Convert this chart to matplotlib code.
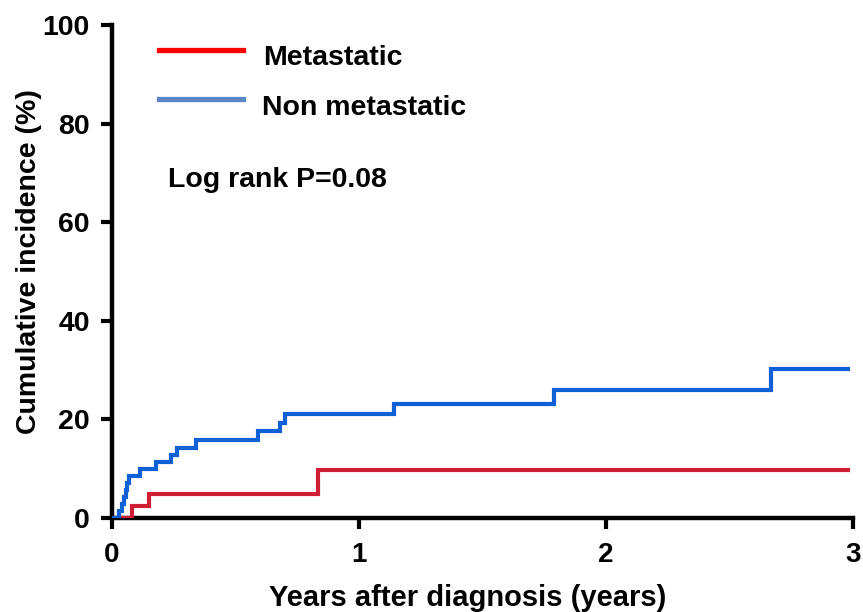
import matplotlib
matplotlib.use("Agg")
import matplotlib.pyplot as plt

# Data (years, cumulative incidence %)
met_times = [0.0, 0.08, 0.15, 0.835, 2.98]
met_values = [0.0, 2.4, 4.9, 9.7, 9.7]

non_times = [0.0, 0.03, 0.04, 0.05, 0.055, 0.06, 0.07, 0.115, 0.18, 0.24, 0.265,
             0.34, 0.59, 0.68, 0.70, 1.14, 1.79, 2.67, 2.98]
non_values = [0.0, 1.4, 2.8, 4.2, 5.6, 7.0, 8.5, 9.9, 11.3, 12.7, 14.1,
              15.8, 17.6, 19.3, 21.1, 23.2, 26.0, 30.3, 30.3]

series_labels = ["Metastatic", "Non metastatic"]
x_ticks = [0, 1, 2, 3]
y_ticks = [0, 20, 40, 60, 80, 100]
annotation = "Log rank P=0.08"

plt.rcParams['font.family'] = ['Liberation Sans', 'DejaVu Sans']

fig = plt.figure(figsize=(8.63, 6.12), dpi=100)
ax = fig.add_axes([0.1298, 0.1536, 0.8586, 0.8056])

ax.step(met_times, met_values, where='post', color='#d01f35', lw=3, solid_joinstyle='miter', zorder=3)
ax.step(non_times, non_values, where='post', color='#1060d8', lw=3, solid_joinstyle='miter', zorder=3)

ax.set_xlim(0, 3)
ax.set_ylim(0, 100)
ax.set_xticks(x_ticks)
ax.set_yticks(y_ticks)
ax.set_xticklabels([str(t) for t in x_ticks], fontsize=20, fontweight='bold')
ax.set_yticklabels([str(t) for t in y_ticks], fontsize=20.5, fontweight='bold')
ax.tick_params(axis='both', width=3, length=8, direction='out')
ax.tick_params(axis='x', pad=9)
ax.tick_params(axis='y', pad=8)
for s in ['top', 'right']:
    ax.spines[s].set_visible(False)
for s in ['left', 'bottom']:
    ax.spines[s].set_linewidth(3.2)

ax.set_xlabel("Years after diagnosis (years)", fontsize=21, fontweight='bold', labelpad=12)
ax.xaxis.label.set_x(0.48)
ax.set_ylabel("Cumulative incidence (%)", fontsize=20.5, fontweight='bold')
ax.yaxis.set_label_coords(-0.095, 0.52)

# Legend drawn manually in axes coords
ax.plot([0.0634, 0.1768], [0.949, 0.949], transform=ax.transAxes, color='#ff0000', lw=3.8, clip_on=False)
ax.plot([0.0634, 0.1768], [0.850, 0.850], transform=ax.transAxes, color='#5b88c6', lw=3.8, clip_on=False)
ax.text(0.2038, 0.919, series_labels[0], transform=ax.transAxes, fontsize=20.5, fontweight='bold', va='baseline')
ax.text(0.2024, 0.817, series_labels[1], transform=ax.transAxes, fontsize=20.5, fontweight='bold', va='baseline')
ax.text(0.0756, 0.671, annotation, transform=ax.transAxes, fontsize=20.5, fontweight='bold', va='baseline')

fig.savefig("out.png", dpi=100)
